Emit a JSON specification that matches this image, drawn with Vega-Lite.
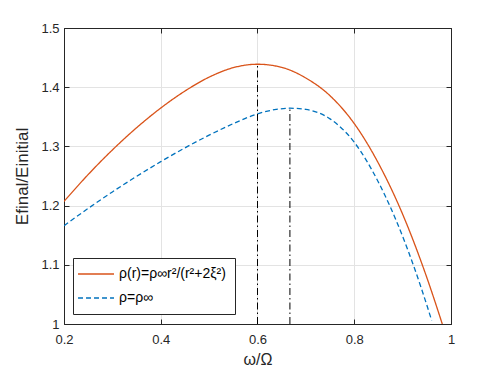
{
  "$schema": "https://vega.github.io/schema/vega-lite/v6.json",
  "width": 387,
  "height": 296,
  "autosize": {"type": "none"},
  "padding": {"left": 64, "top": 28, "right": 47, "bottom": 50},
  "background": "white",
  "config": {
    "font": "Liberation Sans",
    "view": {"stroke": "#262626", "strokeWidth": 1},
    "axis": {
      "domainColor": "#262626",
      "domainWidth": 1,
      "tickColor": "#262626",
      "tickSize": -5,
      "labelColor": "#262626",
      "labelFontSize": 13,
      "labelFont": "Liberation Sans",
      "labelFlush": false,
      "gridColor": "#e3e3e3",
      "gridWidth": 1,
      "titleColor": "#262626",
      "titleFontSize": 17,
      "titleFontWeight": "normal",
      "titleFont": "Liberation Sans"
    }
  },
  "datasets": {
    "curves": [
      {"series": "ρ(r)=ρ∞r²/(r²+2ξ²)", "x": 0.2, "y": 1.207},
      {"series": "ρ(r)=ρ∞r²/(r²+2ξ²)", "x": 0.25, "y": 1.2525},
      {"series": "ρ(r)=ρ∞r²/(r²+2ξ²)", "x": 0.3, "y": 1.294},
      {"series": "ρ(r)=ρ∞r²/(r²+2ξ²)", "x": 0.35, "y": 1.3315},
      {"series": "ρ(r)=ρ∞r²/(r²+2ξ²)", "x": 0.4, "y": 1.3648},
      {"series": "ρ(r)=ρ∞r²/(r²+2ξ²)", "x": 0.45, "y": 1.3935},
      {"series": "ρ(r)=ρ∞r²/(r²+2ξ²)", "x": 0.5, "y": 1.417},
      {"series": "ρ(r)=ρ∞r²/(r²+2ξ²)", "x": 0.55, "y": 1.433},
      {"series": "ρ(r)=ρ∞r²/(r²+2ξ²)", "x": 0.6, "y": 1.4388},
      {"series": "ρ(r)=ρ∞r²/(r²+2ξ²)", "x": 0.65, "y": 1.4335},
      {"series": "ρ(r)=ρ∞r²/(r²+2ξ²)", "x": 0.7, "y": 1.4155},
      {"series": "ρ(r)=ρ∞r²/(r²+2ξ²)", "x": 0.75, "y": 1.3855},
      {"series": "ρ(r)=ρ∞r²/(r²+2ξ²)", "x": 0.8, "y": 1.3385},
      {"series": "ρ(r)=ρ∞r²/(r²+2ξ²)", "x": 0.85, "y": 1.2715},
      {"series": "ρ(r)=ρ∞r²/(r²+2ξ²)", "x": 0.9, "y": 1.1855},
      {"series": "ρ(r)=ρ∞r²/(r²+2ξ²)", "x": 0.95, "y": 1.0785},
      {"series": "ρ(r)=ρ∞r²/(r²+2ξ²)", "x": 0.982, "y": 1.0},
      {"series": "ρ=ρ∞", "x": 0.2, "y": 1.166},
      {"series": "ρ=ρ∞", "x": 0.25, "y": 1.1953},
      {"series": "ρ=ρ∞", "x": 0.3, "y": 1.2231},
      {"series": "ρ=ρ∞", "x": 0.35, "y": 1.2494},
      {"series": "ρ=ρ∞", "x": 0.4, "y": 1.2742},
      {"series": "ρ=ρ∞", "x": 0.45, "y": 1.2975},
      {"series": "ρ=ρ∞", "x": 0.5, "y": 1.319},
      {"series": "ρ=ρ∞", "x": 0.55, "y": 1.3385},
      {"series": "ρ=ρ∞", "x": 0.6, "y": 1.355},
      {"series": "ρ=ρ∞", "x": 0.635, "y": 1.362},
      {"series": "ρ=ρ∞", "x": 0.667, "y": 1.3645},
      {"series": "ρ=ρ∞", "x": 0.7, "y": 1.3625},
      {"series": "ρ=ρ∞", "x": 0.75, "y": 1.3465},
      {"series": "ρ=ρ∞", "x": 0.8, "y": 1.307},
      {"series": "ρ=ρ∞", "x": 0.85, "y": 1.2395},
      {"series": "ρ=ρ∞", "x": 0.9, "y": 1.148},
      {"series": "ρ=ρ∞", "x": 0.95, "y": 1.032},
      {"series": "ρ=ρ∞", "x": 0.96, "y": 1.006}
    ],
    "markers": [
      {"x": 0.6, "y": 1.0, "y2": 1.4388},
      {"x": 0.667, "y": 1.0, "y2": 1.3645}
    ]
  },
  "layer": [
    {
      "data": {"name": "curves"},
      "mark": {"type": "line", "strokeWidth": 1.3, "interpolate": "monotone", "clip": true},
      "encoding": {
        "x": {
          "field": "x", "type": "quantitative",
          "scale": {"domain": [0.2, 1], "nice": false, "zero": false},
          "axis": {"values": [0.2, 0.4, 0.6, 0.8, 1], "format": "~g", "title": "ω/Ω", "grid": true, "labelPadding": 14, "titlePadding": 5, "titleFontSize": 16}
        },
        "y": {
          "field": "y", "type": "quantitative",
          "scale": {"domain": [1, 1.5], "nice": false, "zero": false},
          "axis": {"values": [1, 1.1, 1.2, 1.3, 1.4, 1.5], "format": "~g", "title": "Efinal/Einitial", "grid": true, "labelPadding": 10, "titlePadding": 9}
        },
        "color": {
          "field": "series", "type": "nominal",
          "scale": {"domain": ["ρ(r)=ρ∞r²/(r²+2ξ²)", "ρ=ρ∞"], "range": ["#D95319", "#0072BD"]},
          "legend": {
            "orient": "none", "legendX": 9, "legendY": 230, "title": null,
            "strokeColor": "#262626", "fillColor": "white", "padding": 9,
            "symbolType": "M-1.83,0H4.17", "symbolSize": 144, "symbolStrokeWidth": 1.3,
            "labelOffset": 23, "labelFontSize": 14, "labelColor": "#000000", "rowPadding": 10, "labelLimit": 300
          }
        },
        "strokeDash": {
          "field": "series", "type": "nominal",
          "scale": {"domain": ["ρ(r)=ρ∞r²/(r²+2ξ²)", "ρ=ρ∞"], "range": [[1, 0], [5, 3]]},
          "legend": {
            "orient": "none", "legendX": 9, "legendY": 230, "title": null,
            "strokeColor": "#262626", "fillColor": "white", "padding": 9,
            "symbolType": "M-1.83,0H4.17", "symbolSize": 144, "symbolStrokeWidth": 1.3,
            "labelOffset": 23, "labelFontSize": 14, "labelColor": "#000000", "rowPadding": 10, "labelLimit": 300
          }
        }
      }
    },
    {
      "data": {"name": "markers"},
      "mark": {"type": "rule", "color": "#000000", "strokeWidth": 1, "strokeDash": [7, 3, 1.5, 3]},
      "encoding": {
        "x": {"field": "x", "type": "quantitative", "axis": {"orient": "top", "values": [0.2, 0.4, 0.6, 0.8, 1], "labels": false, "title": null, "grid": false, "domain": true, "ticks": true}},
        "y": {"field": "y", "type": "quantitative", "axis": {"orient": "right", "values": [1, 1.1, 1.2, 1.3, 1.4, 1.5], "labels": false, "title": null, "grid": false, "domain": true, "ticks": true}},
        "y2": {"field": "y2"}
      }
    }
  ],
  "resolve": {"axis": {"x": "independent", "y": "independent"}}
}
